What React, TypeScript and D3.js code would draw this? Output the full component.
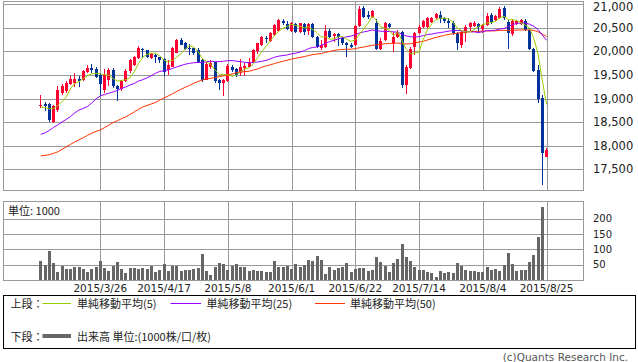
import React from 'react';
import * as d3 from 'd3';

// ---- data ----
const opens = [18844,18880,18886,18505,18759,19113,19151,19300,19325,19406,19395,19571,19643,19628,19501,19183,19395,19607,19258,19194,19364,19575,19720,19862,20063,20031,19862,19925,19876,19830,19597,19681,19978,20254,20180,20080,20067,20031,19819,19395,19681,19777,19385,19332,19363,19681,19618,19544,19643,19681,19783,20010,20137,20292,20228,20349,20440,20652,20576,20440,20582,20419,20582,20440,20582,20313,20067,20101,20440,20328,20370,20279,20186,20137,20137,20533,20919,20767,20724,20610,20046,20243,20582,20173,20300,20419,19279,19643,20101,20385,20519,20525,20631,20703,20773,20703,20652,20597,20385,20137,20385,20512,20540,20582,20470,20561,20773,20667,20703,20915,20631,20370,20582,20582,20646,20455,20046,19607,19007,17769];
const highs = [19084,18935,18908,18872,19262,19310,19380,19480,19537,19480,19607,19713,19734,19671,19544,19628,19650,19639,19289,19395,19618,19840,19904,20116,20084,20042,19968,19936,19893,19862,19819,20105,20275,20296,20211,20169,20080,20067,19840,19777,19819,19787,19416,19406,19734,19703,19639,19851,19745,19872,20052,20190,20328,20328,20413,20582,20688,20688,20652,20631,20610,20614,20597,20603,20597,20328,20243,20561,20470,20385,20385,20313,20207,20173,20561,20964,20975,20869,20879,20699,20286,20625,20610,20419,20455,20440,19713,20101,20413,20561,20667,20731,20731,20822,20864,20737,20703,20652,20413,20434,20561,20625,20646,20597,20582,20822,20822,20773,20949,20958,20667,20699,20667,20688,20682,20497,20073,19713,19077,17943];
const lows = [18802,18738,18505,18484,18717,19077,19120,19289,19240,19247,19374,19537,19550,19438,19077,19120,19268,19226,18939,19151,19342,19544,19692,19840,19872,19862,19840,19766,19756,19469,19501,19671,19968,20137,20042,19925,19925,19749,19353,19384,19628,19332,19173,19045,19342,19565,19459,19469,19469,19639,19756,19957,20116,20190,20211,20328,20423,20561,20455,20419,20385,20402,20349,20349,20279,20067,20031,20084,20279,20207,20122,20137,19876,20067,20116,20519,20703,20699,20709,20031,20031,20222,20491,19995,20279,19219,19098,19628,19925,20370,20498,20508,20614,20688,20597,20614,20491,20349,20031,20067,20207,20419,20519,20385,20392,20540,20582,20646,20688,20667,20046,20322,20561,20561,20434,20021,19571,18901,17169,17756];
const closes = [18865,18844,18547,18838,19190,19268,19338,19406,19410,19374,19586,19656,19607,19459,19310,19501,19607,19258,19194,19364,19580,19819,19883,20084,20021,19883,19936,19883,19809,19554,19713,20084,20254,20148,20063,20046,19961,19783,19395,19734,19745,19364,19332,19385,19692,19597,19501,19671,19698,19783,20031,20173,20300,20258,20385,20561,20667,20597,20470,20597,20419,20597,20419,20582,20300,20101,20137,20440,20313,20364,20300,20173,20137,20088,20540,20911,20737,20724,20858,20046,20228,20597,20512,20313,20419,19289,19677,20063,20385,20525,20646,20703,20703,20794,20682,20652,20597,20385,20173,20413,20519,20603,20614,20512,20555,20752,20631,20752,20894,20703,20385,20652,20646,20667,20455,20046,19592,18986,17841,17911];
const volumes = [63,49,96,57,27,47,37,37,43,43,37,27,37,43,63,40,30,48,60,37,24,40,40,37,40,37,47,27,34,53,30,47,47,30,34,34,37,40,86,30,17,43,57,53,34,47,53,43,43,30,34,30,30,27,27,63,43,43,47,37,53,43,50,66,63,79,66,21,43,34,40,43,57,27,37,40,40,30,34,76,60,47,27,57,70,118,76,63,43,34,34,27,24,11,30,24,27,24,57,47,34,30,30,27,27,43,34,37,30,50,89,53,30,34,34,60,83,141,239,0];
// moving-average values before enough closes are on the chart
const ma5Head = [18823,18812,18780,18791];
const ma25Head = [18240,18272,18325,18388,18441,18505,18558,18621,18696,18759,18791,18833,18908,18992,19056,19088,19113,19141,19173,19215,19247,19289,19321,19374];
const ma50Head = [17784,17795,17809,17837,17869,17922,17975,18028,18081,18127,18170,18219,18265,18303,18335,18382,18435,18488,18530,18573,18611,18664,18717,18774,18823,18855,18886,18918,18971,19014,19056,19103,19151,19198,19240,19279,19325,19363,19395,19416,19431,19448,19465,19484,19501,19522,19550,19565,19571];
const dateLabels = ['2015/3/26','2015/4/17','2015/5/8','2015/6/1','2015/6/22','2015/7/14','2015/8/4','2015/8/25'];
const dateIndex = [14,29,44,59,74,89,104,119];
const priceTicks = [17500,18000,18500,19000,19500,20000,20500,21000];
const volumeTicks = [50,100,150,200];

function sma(n: number, head: number[]) {
  return closes.map((_, i) => {
    if (i < n - 1) return head[i];
    return d3.mean(closes.slice(i - n + 1, i + 1)) as number;
  });
}

const RED = '#ff0033';
const BLUE = '#003399';
const GRID = '#999999';
const NUM_FONT = '"DejaVu Sans", sans-serif';
const JP_FONT = '"Noto Sans CJK JP", "DejaVu Sans", sans-serif';

export default function App() {
  const L = 3, R = 583;
  const x = d3.scaleLinear().domain([0, 119]).range([40.8, 546.55]);
  const yP = d3.scaleLinear().domain([17050, 21070]).range([190.4, 1.1]);
  const yV = d3.scaleLinear().domain([0, 255]).range([280.3, 201.7]);
  const snap = (v: number) => Math.round(v) + 0.5;
  const fmt = d3.format(',');

  const ma5 = sma(5, ma5Head);
  const ma25 = sma(25, ma25Head);
  const ma50 = sma(50, ma50Head);
  const line = d3.line<number>().x((_, i) => x(i)).y(d => yP(d));

  return (
    <svg width={638} height={362} style={{ position: 'absolute', left: 0, top: 0, background: '#fff' }}
      xmlns="http://www.w3.org/2000/svg">
      <rect x={0} y={0} width={638} height={362} fill="#fff" />
      {/* price panel grid */}
      <g shapeRendering="crispEdges" stroke={GRID} strokeWidth={1}>
        {priceTicks.map(t => (
          <line key={'hp' + t} x1={L} x2={R} y1={snap(yP(t))} y2={snap(yP(t))} />
        ))}
        {dateIndex.map(i => (
          <line key={'vp' + i} x1={snap(x(i))} x2={snap(x(i))} y1={1} y2={190.5} />
        ))}
        <rect x={L + 0.5} y={1.5} width={R - L} height={189} fill="none" />
      </g>
      {/* volume panel grid */}
      <g shapeRendering="crispEdges" stroke={GRID} strokeWidth={1}>
        {volumeTicks.map(t => (
          <line key={'hv' + t} x1={L} x2={R} y1={snap(yV(t))} y2={snap(yV(t))} />
        ))}
        {dateIndex.map(i => (
          <line key={'vv' + i} x1={snap(x(i))} x2={snap(x(i))} y1={201.5} y2={280.5} />
        ))}
        <rect x={L + 0.5} y={201.5} width={R - L} height={79} fill="none" />
      </g>
      {/* volume bars */}
      <g shapeRendering="crispEdges" fill="#666666">
        {volumes.map((v, i) => v > 0 ? (
          <rect key={'v' + i} x={Math.floor(x(i)) - 1} width={3} y={yV(v)} height={yV(0) - yV(v)} />
        ) : null)}
      </g>
      {/* candles */}
      <g shapeRendering="crispEdges">
        {closes.map((c, i) => {
          const o = opens[i];
          const col = c >= o ? RED : BLUE;
          const cx = Math.floor(x(i));
          const top = yP(Math.max(o, c));
          const bot = yP(Math.min(o, c));
          return (
            <g key={'c' + i}>
              <line x1={cx + 0.5} x2={cx + 0.5} y1={yP(highs[i])} y2={yP(lows[i])} stroke={col} strokeWidth={1} />
              <rect x={cx - 1} width={3} y={top} height={Math.max(1, bot - top)} fill={col} />
            </g>
          );
        })}
      </g>
      {/* moving averages */}
      <path d={line(ma50) || ''} fill="none" stroke="#ff3300" strokeWidth={1} />
      <path d={line(ma25) || ''} fill="none" stroke="#9900ff" strokeWidth={1} />
      <path d={line(ma5) || ''} fill="none" stroke="#99cc00" strokeWidth={1} />
      {/* axis labels */}
      <g fontFamily={NUM_FONT} fontSize={11.5} fill="#222">
        {priceTicks.map(t => (
          <text key={'pl' + t} x={593} y={Math.max(yP(t), 6.5)} dominantBaseline="central">{fmt(t)}</text>
        ))}
      </g>
      <g fontFamily={NUM_FONT} fontSize={10} fill="#222">
        {volumeTicks.map(t => (
          <text key={'vl' + t} x={593} y={yV(t)} dominantBaseline="central">{t}</text>
        ))}
      </g>
      <g fontFamily={NUM_FONT} fontSize={10.5} fill="#222">
        {dateIndex.map((i, k) => (
          <text key={'dl' + i} x={x(i)} y={288} textAnchor="middle" dominantBaseline="central">{dateLabels[k]}</text>
        ))}
      </g>
      <text x={8} y={209.5} fontFamily={JP_FONT} fontSize={11} fill="#222" dominantBaseline="central">単位: 1000</text>
      {/* legend */}
      <rect x={3.5} y={295.5} width={632} height={53} fill="#fff" stroke="#000" strokeWidth={1} shapeRendering="crispEdges" />
      <g fontFamily={JP_FONT} fontSize={11} fill="#222">
        <text x={10.5} y={303} dominantBaseline="central">上段：</text>
        <line x1={42.5} x2={71} y1={303.5} y2={303.5} stroke="#99cc00" strokeWidth={1} />
        <text x={77} y={303} dominantBaseline="central">単純移動平均(5)</text>
        <line x1={170.5} x2={201} y1={303.5} y2={303.5} stroke="#9900ff" strokeWidth={1} />
        <text x={206.5} y={303} dominantBaseline="central">単純移動平均(25)</text>
        <line x1={315} x2={345} y1={303.5} y2={303.5} stroke="#ff3300" strokeWidth={1} />
        <text x={350} y={303} dominantBaseline="central">単純移動平均(50)</text>
        <text x={10.5} y={336} dominantBaseline="central">下段：</text>
        <line x1={42.5} x2={71} y1={336} y2={336} stroke="#666666" strokeWidth={4} />
        <text x={77} y={336} dominantBaseline="central">出来高 単位:(1000株/口/枚)</text>
      </g>
      <text x={628} y={357} textAnchor="end" fontFamily={NUM_FONT} fontSize={10.5} fill="#555" dominantBaseline="central">(c)Quants Research Inc.</text>
    </svg>
  );
}
